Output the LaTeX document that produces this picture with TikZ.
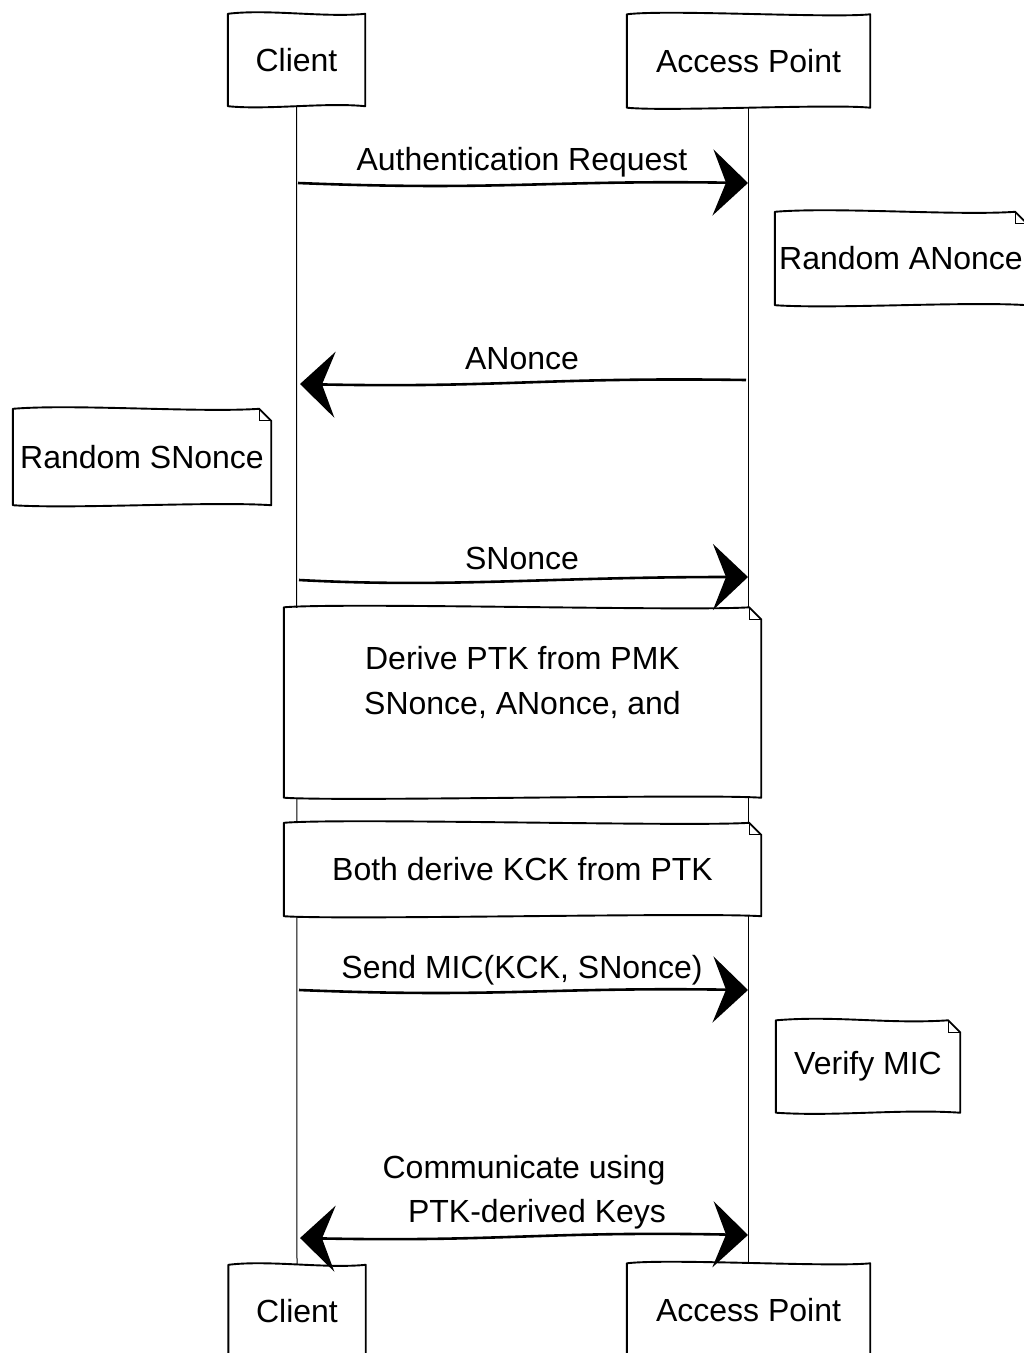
\documentclass[tikz,border=0pt]{standalone}
\usepackage{fontspec}
\setmainfont{Liberation Sans}
\usetikzlibrary{arrows.meta,calc}
\newcommand\skbox[1]{%
  \draw[edge] (#1.north west) .. controls +(40,-5) and +(-40,4) .. (#1.north east)
    -- (#1.south east) .. controls +(-40,-4) and +(40,4) .. (#1.south west) -- cycle;}
\newcommand\sknote[1]{%
  \draw[edge] (#1.north west) .. controls +(60,-5) and +(-60,4) .. ($(#1.north east)+(-12,0)$)
    -- ($(#1.north east)+(0,12)$) -- (#1.south east)
    .. controls +(-60,-4) and +(60,4) .. (#1.south west) -- cycle;
  \draw[line width=1pt] ($(#1.north east)+(-12,0)$) -- ++(0,12) -- ++(12,0);}
\tikzset{
  hand/.style={font=\fontsize{32}{45}\selectfont},
  actor/.style={hand, fill=white, inner sep=0},
  note/.style={hand, fill=white, inner sep=0, align=center},
  edge/.style={line width=1.9pt, line join=round},
  life/.style={line width=1pt},
  msg/.style={line width=2.6pt, -{Stealth[length=35pt,width=66pt,inset=13pt]}},
  bimsg/.style={line width=2.6pt, {Stealth[length=35pt,width=66pt,inset=13pt]}-{Stealth[length=35pt,width=66pt,inset=13pt]}},
  lbl/.style={hand, anchor=base, inner sep=0},
}
\begin{document}
\begin{tikzpicture}[x=1pt,y=-1pt]
\useasboundingbox (0,0) rectangle (1024,1353);
\clip (0,0) rectangle (1024,1353);
% actors
\node[actor, minimum width=137, minimum height=92] (c1) at (296.5,60) {Client};
\node[actor, minimum width=243, minimum height=93] (a1) at (748.5,61) {Access Point};
\node[actor, minimum width=137, minimum height=92] (c2) at (297,1311) {Client};
\node[actor, minimum width=243, minimum height=93] (a2) at (748.5,1310) {Access Point};
\skbox{c1}\skbox{a1}\skbox{c2}\skbox{a2}
% lifelines
\draw[life] (c1.south) -- (c2.north);
\draw[life] (a1.south) -- (a2.north);
% notes
\node[note, minimum width=252, minimum height=93] (nA) at (901,258.5) {Random ANonce};
\sknote{nA}
\node[note, minimum width=258, minimum height=96] (nS) at (142,457) {Random SNonce};
\sknote{nS}
\node[note, minimum width=477, minimum height=190] (nD) at (522.5,702.5) {Derive PTK from PMK\\SNonce, ANonce, and\\~};
\sknote{nD}
\node[note, minimum width=477, minimum height=93] (nK) at (522.5,869.5) {Both derive KCK from PTK};
\sknote{nK}
\node[note, minimum width=184, minimum height=92] (nV) at (868,1066.5) {Verify MIC};
\sknote{nV}
% message end points on the lifelines
\coordinate (m1a) at (298,183);  \coordinate (m1b) at (748,183);
\coordinate (m2a) at (746,380);  \coordinate (m2b) at (300,384);
\coordinate (m3a) at (299,580);  \coordinate (m3b) at (748,577);
\coordinate (m4a) at (299,990);  \coordinate (m4b) at (748,990);
\coordinate (m5a) at (300,1238); \coordinate (m5b) at (748,1235);
% messages
\draw[msg] (m1a) .. controls +(200,8) and +(-200,-3) .. (m1b);
\node[lbl] (l1) at (522,170) {Authentication Request};
\draw[msg] (m2a) .. controls +(-200,-3) and +(200,4) .. (m2b);
\node[lbl] (l2) at (522,369) {ANonce};
\draw[msg] (m3a) .. controls +(150,8) and +(-200,0) .. (m3b);
\node[lbl] (l3) at (522,569) {SNonce};
\draw[msg] (m4a) .. controls +(200,8) and +(-200,-3) .. (m4b);
\node[lbl] (l4) at (522,978) {Send MIC(KCK, SNonce)};
\draw[bimsg] (m5a) .. controls +(200,4) and +(-200,-4) .. (m5b);
\node[lbl] (l5a) at (524,1178) {Communicate using};
\node[lbl] (l5b) at (537,1222) {PTK-derived Keys};
\end{tikzpicture}
\end{document}
